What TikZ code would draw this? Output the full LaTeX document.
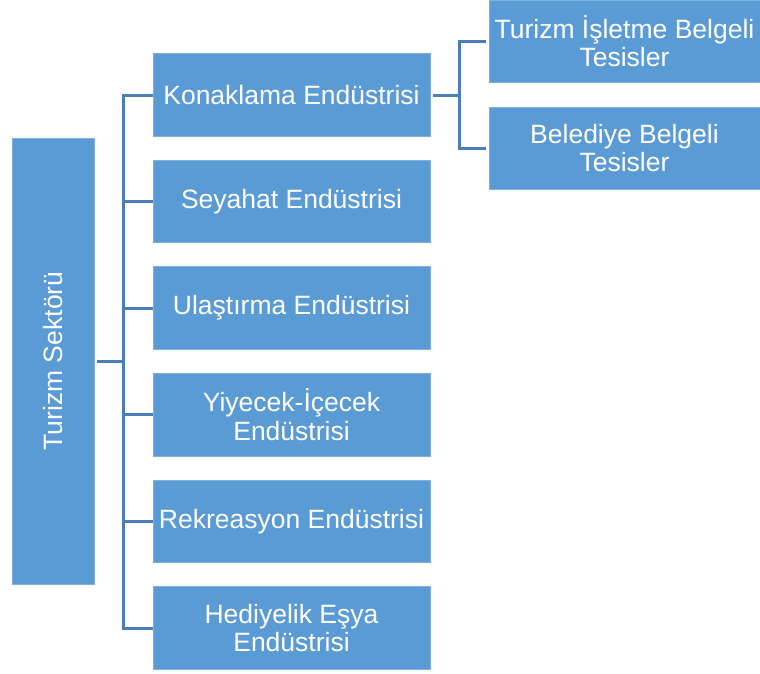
\documentclass[tikz,border=0pt]{standalone}
\usepackage{fontspec}
\setmainfont{Liberation Sans}
\definecolor{boxfill}{HTML}{5B9BD5}
\definecolor{boxline}{HTML}{7FB0DE}
\definecolor{conncol}{RGB}{74,126,184}
\begin{document}
\begin{tikzpicture}[x=1pt,y=-1pt,
  box/.style={rectangle, fill=boxfill, draw=boxline, line width=0.6pt, inner sep=0pt, text=white, align=center,
    font=\fontsize{26.5}{28.5}\selectfont},
  midbox/.style={box, minimum width=277pt, minimum height=82.5pt},
  rbox/.style={box, minimum width=271pt, minimum height=82pt},
  conn/.style={draw=conncol, line width=3pt}]
\useasboundingbox (0,0) rectangle (760,673);
\node[box, minimum width=82pt, minimum height=446pt] (root) at (53,361) {};
\node[rotate=90, text=white, font=\fontsize{26.5}{28.5}\selectfont, inner sep=0pt] (rootlabel) at (root.center) {Turizm Sektörü};
\node[midbox] (k1) at (291.5,95) {Konaklama Endüstrisi};
\node[midbox] (k2) at (291.5,201.5) {Seyahat Endüstrisi};
\node[midbox] (k3) at (291.5,308) {Ulaştırma Endüstrisi};
\node[midbox] (k4) at (291.5,414.7) {Yiyecek-İçecek\\Endüstrisi};
\node[midbox] (k5) at (291.5,521.5) {Rekreasyon Endüstrisi};
\node[midbox] (k6) at (291.5,628) {Hediyelik Eşya\\Endüstrisi};
\node[rbox] (r1) at (624.5,41) {Turizm İşletme Belgeli\\Tesisler};
\node[rbox] (r2) at (624.5,148) {Belediye Belgeli\\Tesisler};
% connectors
\path (root.east) ++(29.5,0) coordinate (j);
\draw[conn, shorten <=3pt] (root.east) -- (j);
\draw[conn, line cap=rect] (j |- k1.west) -- (j |- k6.west);
\foreach \k in {k1,k2,k3,k4,k5,k6}{
  \draw[conn] (j |- \k.west) -- (\k.west);
}
\path (k1.east) ++(29,0) coordinate (j2);
\draw[conn, shorten <=3pt] (k1.east) -- (j2);
\draw[conn, line cap=rect] (j2 |- r1.west) -- (j2 |- r2.west);
\foreach \r in {r1,r2}{
  \draw[conn, shorten >=3pt] (j2 |- \r.west) -- (\r.west);
}
\end{tikzpicture}
\end{document}
